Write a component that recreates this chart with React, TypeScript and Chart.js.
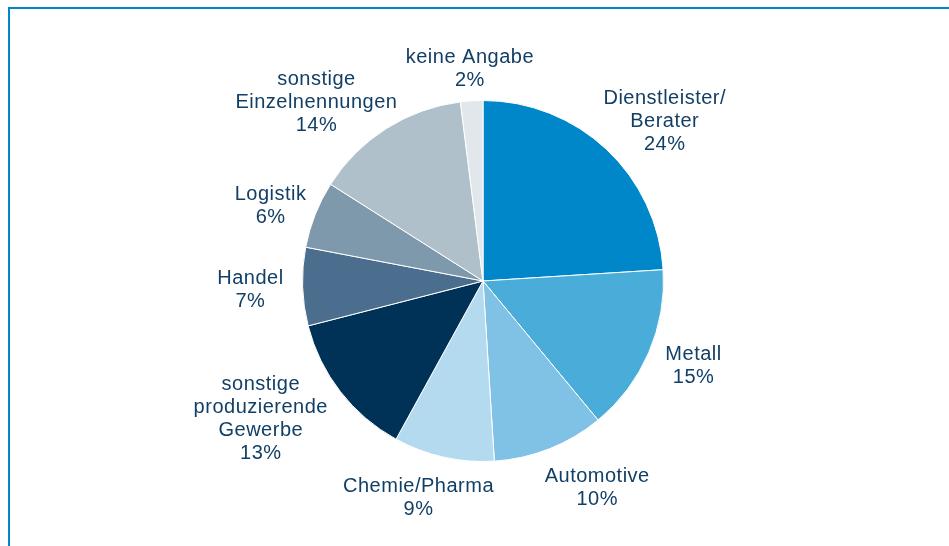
import React, { useEffect, useRef } from "react";
import { Chart, registerables } from "chart.js";

Chart.register(...registerables);

const categories: string[][] = [
  ["Dienstleister/", "Berater"],
  ["Metall"],
  ["Automotive"],
  ["Chemie/Pharma"],
  ["sonstige", "produzierende", "Gewerbe"],
  ["Handel"],
  ["Logistik"],
  ["sonstige", "Einzelnennungen"],
  ["keine Angabe"],
];
const shares: number[] = [24, 15, 10, 9, 13, 7, 6, 14, 2];
const sliceColors: string[] = [
  "#0087c9",
  "#4aacd9",
  "#80c2e5",
  "#b3daee",
  "#003157",
  "#4b6e8e",
  "#7f99ac",
  "#b0c0cb",
  "#e1e7eb",
];
// label layout nudges (pixels), purely presentational
const labelNudges: [number, number][] = [
  [8, 6],
  [8, -1],
  [24, 7],
  [-6, 7],
  [-17, -8],
  [-7, 2],
  [0, 4],
  [-20, 13],
  [3, 3],
];

const TEXT_COLOR = "#123f66";
const FONT = '20px "Liberation Sans", Arial, sans-serif';
const LINE_H = 23;
const GAP = 12;

const outerLabels = {
  id: "outerLabels",
  afterDatasetsDraw(chart: any) {
    const ctx = chart.ctx as CanvasRenderingContext2D;
    const meta = chart.getDatasetMeta(0);
    ctx.save();
    ctx.font = FONT;
    (ctx as any).letterSpacing = "0.5px";
    ctx.fillStyle = TEXT_COLOR;
    ctx.textAlign = "center";
    ctx.textBaseline = "middle";
    meta.data.forEach((arc: any, i: number) => {
      const p = arc.getProps(["x", "y", "startAngle", "endAngle", "outerRadius"], true);
      const mid = (p.startAngle + p.endAngle) / 2;
      const dx = Math.cos(mid);
      const dy = Math.sin(mid);
      const lines = [...categories[i], `${shares[i]}%`];
      const w = Math.max(...lines.map((l) => ctx.measureText(l).width));
      const h = lines.length * LINE_H;
      const ax = p.x + (p.outerRadius + GAP) * dx;
      const ay = p.y + (p.outerRadius + GAP) * dy;
      const cx = ax + dx * (w / 2) + labelNudges[i][0];
      const cy = ay + dy * (h / 2) + labelNudges[i][1];
      lines.forEach((l, k) => {
        ctx.fillText(l, cx, cy - h / 2 + LINE_H * (k + 0.5));
      });
    });
    ctx.restore();
  },
};

export default function App() {
  const ref = useRef<HTMLCanvasElement | null>(null);
  useEffect(() => {
    if (!ref.current) return;
    const chart = new Chart(ref.current, {
      type: "pie",
      data: {
        labels: categories.map((c) => c.join(" ")),
        datasets: [
          {
            data: shares,
            backgroundColor: sliceColors,
            borderColor: "#ffffff",
            borderWidth: 1,
          },
        ],
      },
      options: {
        animation: false,
        responsive: false,
        maintainAspectRatio: false,
        layout: { padding: { top: 100, bottom: 84, left: 302, right: 285 } },
        plugins: {
          legend: { display: false },
          tooltip: { enabled: false },
        },
      },
      plugins: [outerLabels],
    });
    return () => chart.destroy();
  }, []);
  return (
    <div style={{ position: "fixed", left: 0, top: 0, width: 949, height: 546, background: "#fff" }}>
      <div
        style={{
          position: "absolute",
          left: 8,
          top: 7,
          right: 0,
          bottom: 0,
          borderTop: "2px solid #0087c9",
          borderLeft: "2px solid #0087c9",
        }}
      />
      <canvas ref={ref} width={949} height={546} style={{ position: "absolute", left: 0, top: 0 }} />
    </div>
  );
}
